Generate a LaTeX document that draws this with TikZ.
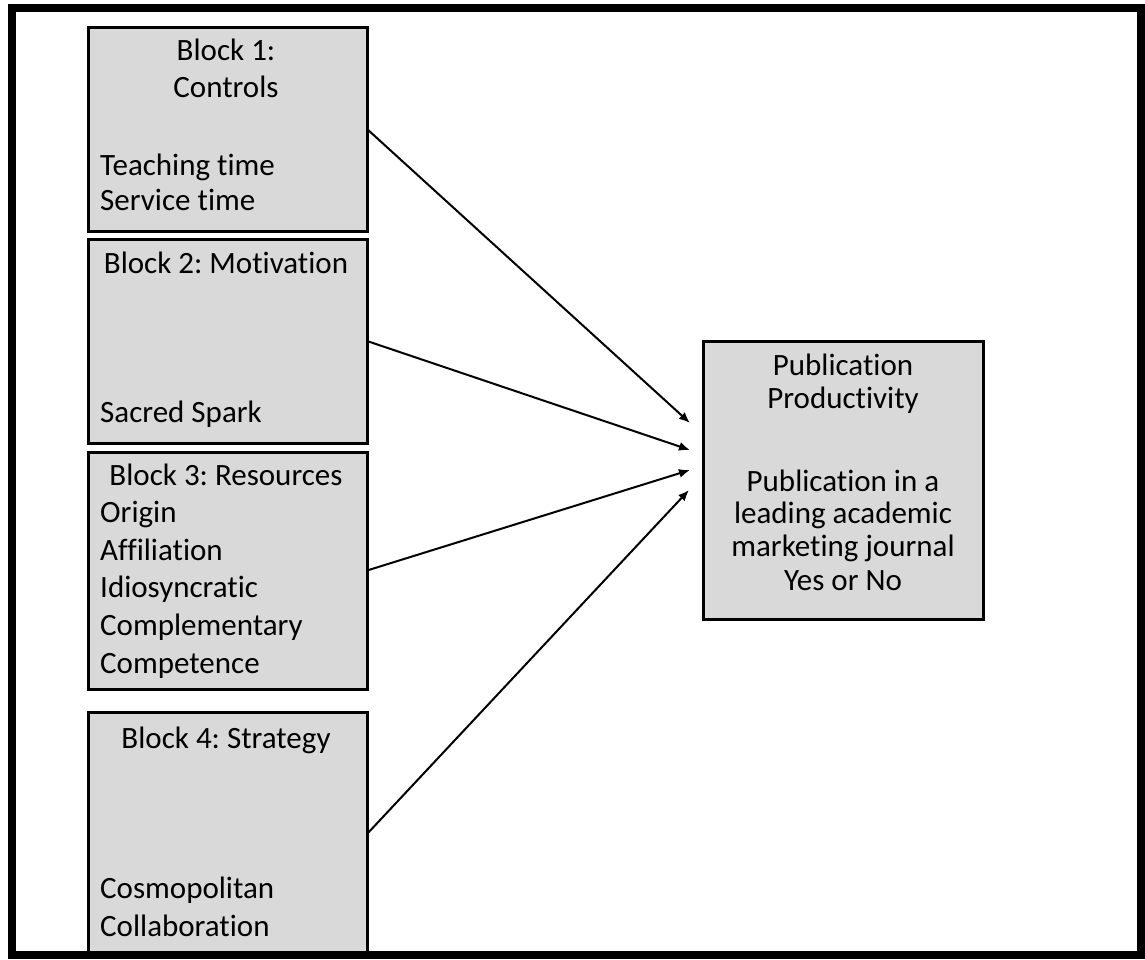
\documentclass[tikz,border=0pt]{standalone}
\usepackage{fontspec}
\setmainfont{Carlito}[Ligatures=NoCommon]
\usetikzlibrary{arrows.meta}
\newcommand{\boxfont}{\fontsize{31}{37.5}\selectfont\frenchspacing}
\definecolor{boxgray}{RGB}{217,217,217}
\begin{document}
\begin{tikzpicture}[x=1pt,y=-1pt,
  block/.style={draw=black, fill=boxgray, line width=3pt, inner sep=0pt, outer sep=0pt},
  lblc/.style={inner sep=0pt, anchor=base, font=\boxfont},
  lbll/.style={inner sep=0pt, anchor=base west, font=\boxfont},
  link/.style={line width=2pt, -{Latex[length=11pt,width=9pt]}}]
  % canvas
  \fill[white] (0,0) rectangle (1145,959);
  \useasboundingbox (0,0) rectangle (1145,959);

  % predictor blocks
  \node[block, minimum width=279pt, minimum height=204pt] (b1) at (227.5,129) {};
  \node[block, minimum width=279pt, minimum height=204pt] (b2) at (227.5,341) {};
  \node[block, minimum width=279pt, minimum height=237pt] (b3) at (227.5,570.5) {};
  \node[block, minimum width=279pt, minimum height=244pt] (b4) at (227.5,834) {};
  % outcome block
  \node[block, minimum width=280pt, minimum height=278pt] (pp) at (843,480) {};

  % block 1
  \node[lblc] (b1t1) at (226,60) {Block 1:};
  \node[lblc] (b1t2) at (226,97) {Controls};
  \node[lbll] (b1v1) at (100,175) {Teaching time};
  \node[lbll] (b1v2) at (100,210) {Service time};
  % block 2
  \node[lblc] (b2t) at (226,273) {Block 2: Motivation};
  \node[lbll] (b2v1) at (100,422) {Sacred Spark};
  % block 3
  \node[lblc] (b3t) at (226,485) {Block 3: Resources};
  \node[lbll] (b3v1) at (100,522.6) {Origin};
  \node[lbll] (b3v2) at (100,560.2) {Affiliation};
  \node[lbll] (b3v3) at (100,597.8) {Idiosyncratic};
  \node[lbll] (b3v4) at (100,635.4) {Complementary};
  \node[lbll] (b3v5) at (100,673) {Competence};
  % block 4
  \node[lblc] (b4t) at (226,748) {Block 4: Strategy};
  \node[lbll] (b4v1) at (100,898) {Cosmopolitan};
  \node[lbll] (b4v2) at (100,936) {Collaboration};
  % outcome
  \node[lblc] (ppt1) at (843,375) {Publication};
  \node[lblc] (ppt2) at (843,408) {Productivity};
  \node[lblc] (ppv1) at (843,491) {Publication in a};
  \node[lblc] (ppv2) at (843,523) {leading academic};
  \node[lblc] (ppv3) at (843,556) {marketing journal};
  \node[lblc] (ppv4) at (843,590) {Yes or No};

  % arrow targets in front of the outcome block
  \coordinate (t1) at (690,423);
  \coordinate (t2) at (690,450);
  \coordinate (t3) at (690,470);
  \coordinate (t4) at (689,490);
  \draw[link] (b1.east) -- (t1);
  \draw[link] (b2.east) -- (t2);
  \draw[link] (b3.east) -- (t3);
  \draw[link] (b4.east) -- (t4);

  % frame
  \draw[line width=8pt] (12,8) rectangle (1141,955);
\end{tikzpicture}
\end{document}
